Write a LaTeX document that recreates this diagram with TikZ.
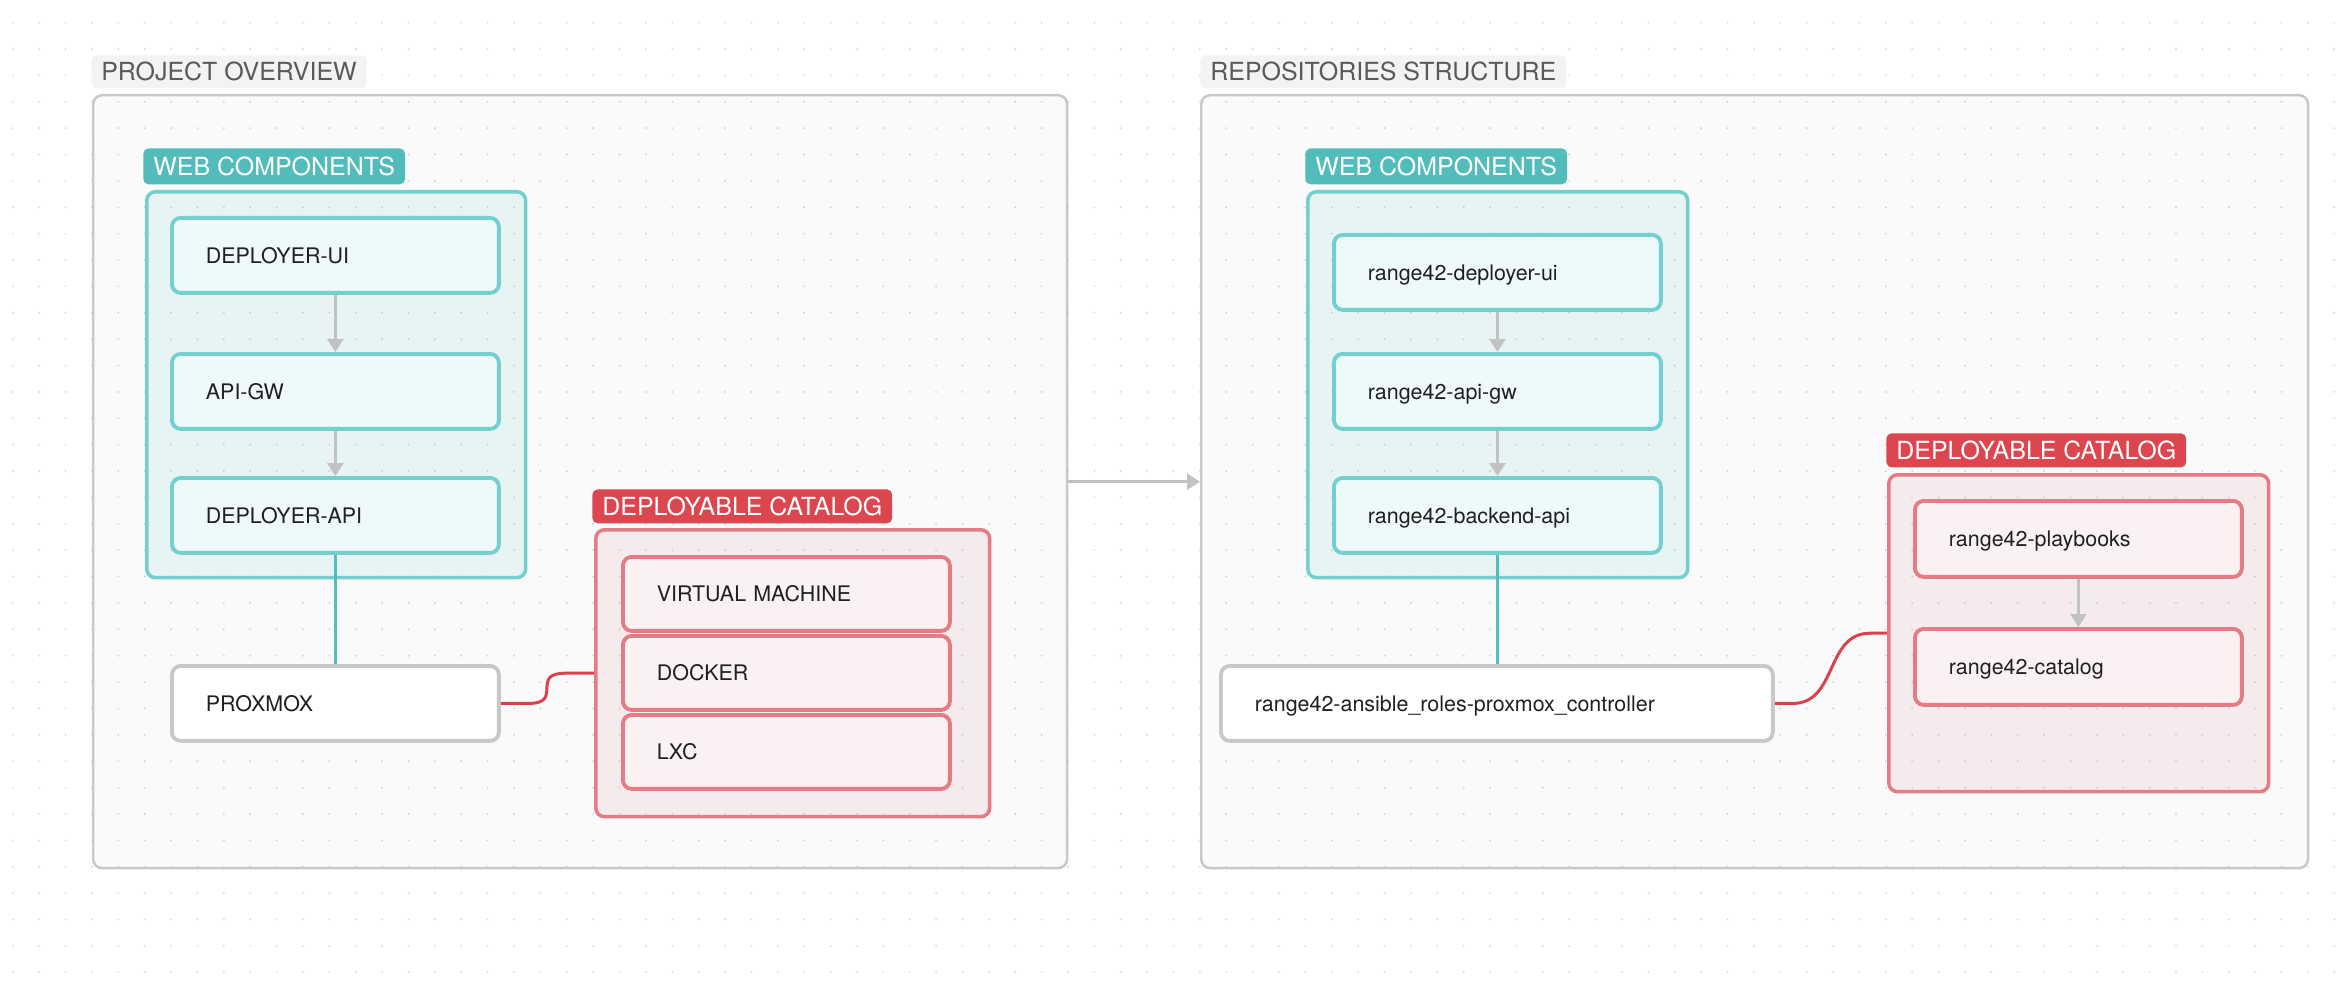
\documentclass[tikz,border=0pt]{standalone}
\usepackage{fontspec}
\setmainfont{TeX Gyre Heros}
\usepackage{tikz}
\usetikzlibrary{positioning}
\usetikzlibrary{arrows.meta}
\definecolor{framegray}{HTML}{C8C8C8}
\definecolor{titlebg}{HTML}{F3F3F3}
\definecolor{titletext}{HTML}{5A5A5A}
\definecolor{dotgray}{HTML}{D8D8D8}
\definecolor{tealhead}{HTML}{52BCBB}
\definecolor{tealtint}{HTML}{6CD0D0}
\definecolor{tealline}{HTML}{74CFCF}
\definecolor{tealbox}{HTML}{EEF9F9}
\definecolor{tealwirecol}{HTML}{4FC0BD}
\definecolor{redhead}{HTML}{DB464F}
\definecolor{redtint}{HTML}{D9858E}
\definecolor{redline}{HTML}{E57B84}
\definecolor{redbox}{HTML}{FBF1F2}
\definecolor{redwirecol}{HTML}{D9424C}
\definecolor{flowgray}{HTML}{C2C2C2}
\definecolor{boxtext}{HTML}{202020}
\tikzset{
  outerframe/.style={draw=framegray, line width=1.4pt, fill=black, fill opacity=0.018,
    rounded corners=5pt, anchor=north west, inner sep=0pt},
  framelabel/.style={fill=titlebg, text=titletext, font=\fontsize{14.2}{16}\selectfont,
    rounded corners=3pt, anchor=north west, inner xsep=0.2cm, inner ysep=0pt,
    minimum height=0.66cm, text height=10.2pt, text depth=0pt},
  weblabel/.style={framelabel, fill=tealhead, text=white, minimum height=0.72cm},
  catlabel/.style={framelabel, fill=redhead, text=white, minimum height=0.68cm},
  webgroup/.style={draw=tealline, line width=2pt, fill=tealtint, fill opacity=0.12,
    rounded corners=5pt, anchor=north west, inner sep=0pt},
  catgroup/.style={webgroup, draw=redline, fill=redtint},
  card/.style={rounded corners=5pt, line width=2.2pt, anchor=north west, align=left,
    text=boxtext, inner xsep=0.68cm, inner ysep=0pt, minimum height=1.5cm,
    text width=5.18cm, text height=8.8pt, text depth=0pt},
  webbox/.style={card, draw=tealline, fill=tealbox},
  catbox/.style={card, draw=redline, fill=redbox},
  hostbox/.style={card, draw=framegray, fill=white},
  flow/.style={draw=flowgray, line width=1.8pt, -{Triangle[length=0.26cm, width=0.32cm]}},
  tealwire/.style={draw=tealwirecol, line width=1.7pt},
  redwire/.style={draw=redwirecol, line width=1.7pt}
}

\begin{document}
\begin{tikzpicture}[x=0.02cm, y=-0.02cm, font=\fontsize{12.2}{14}\selectfont]
    % 1. Canvas and dotted grid
    \fill[white] (0,0) rectangle (2340,993);
    \useasboundingbox (0,0) rectangle (2340,993);
    \foreach \i in {0,...,88}
      \foreach \j in {0,...,36}
        \fill[dotgray] (12.8+26.38*\i, 22.6+26.38*\j) circle (0.6pt);

    % 2. The two frames and their titles
    \node[outerframe, minimum width=19.48cm, minimum height=15.46cm] (overview) at (92,94) {};
    \node[outerframe, minimum width=22.14cm, minimum height=15.46cm] (repos) at (1200,94) {};
    \node[framelabel] (overviewtitle) at (91,55) {PROJECT OVERVIEW};
    \node[framelabel] (repostitle) at (1200,55) {REPOSITORIES STRUCTURE};

    % 3. Project overview: web components
    \node[webgroup, minimum width=7.58cm, minimum height=7.72cm] (webL) at (145,190) {};
    \node[weblabel] (webLtitle) at (143,148) {WEB COMPONENTS};
    \node[webbox] (ui) at (170,216) {DEPLOYER-UI};
    \node[webbox] (gw) at (170,352) {API-GW};
    \node[webbox] (api) at (170,476) {DEPLOYER-API};
    \node[hostbox] (proxmox) at (170,664) {PROXMOX};

    % 4. Project overview: deployable catalog
    \node[catgroup, minimum width=7.88cm, minimum height=5.74cm] (catL) at (594,528) {};
    \node[catlabel] (catLtitle) at (592,489) {DEPLOYABLE CATALOG};
    \node[catbox, minimum height=1.48cm] (vm) at (621,555) {VIRTUAL MACHINE};
    \node[catbox, minimum height=1.48cm] (docker) at (621,634) {DOCKER};
    \node[catbox, minimum height=1.48cm] (lxc) at (621,713) {LXC};

    % 5. Repositories structure: web components
    \node[webgroup, minimum width=7.6cm, minimum height=7.72cm] (webR) at (1306,190) {};
    \node[weblabel] (webRtitle) at (1305,148) {WEB COMPONENTS};
    \node[webbox] (dui) at (1332,233) {range42-deployer-ui};
    \node[webbox] (dgw) at (1332,352) {range42-api-gw};
    \node[webbox] (dapi) at (1332,476) {range42-backend-api};
    \node[hostbox, text width=9.68cm] (ansible) at (1219,664) {range42-ansible\_roles-proxmox\_controller};

    % 6. Repositories structure: deployable catalog
    \node[catgroup, minimum width=7.6cm, minimum height=6.34cm] (catR) at (1887,473) {};
    \node[catlabel] (catRtitle) at (1886,433) {DEPLOYABLE CATALOG};
    \node[catbox, minimum height=1.52cm] (play) at (1913,499) {range42-playbooks};
    \node[catbox, minimum height=1.52cm] (catalog) at (1913,627) {range42-catalog};

    % 7. Connectors
    \draw[flow] (ui.south) -- (gw.north);
    \draw[flow] (gw.south) -- (api.north);
    \draw[flow] (dui.south) -- (dgw.north);
    \draw[flow] (dgw.south) -- (dapi.north);
    \draw[flow] (play.south) -- (catalog.north);
    \draw[flow] (overview.east) -- (repos.west);
    \draw[tealwire] (api.south) -- (proxmox.north);
    \draw[tealwire] (dapi.south) -- (dapi.south |- ansible.north);
    \draw[redwire] (proxmox.east) -- ++(28,0)
      .. controls +(35,0) and +(-35,0) .. ([xshift=-0.58cm]catL.west) -- (catL.west);
    \draw[redwire] (ansible.east) -- ++(18,0)
      .. controls +(45,0) and +(-45,0) .. ([xshift=-0.34cm]catR.west) -- (catR.west);
\end{tikzpicture}
\end{document}
